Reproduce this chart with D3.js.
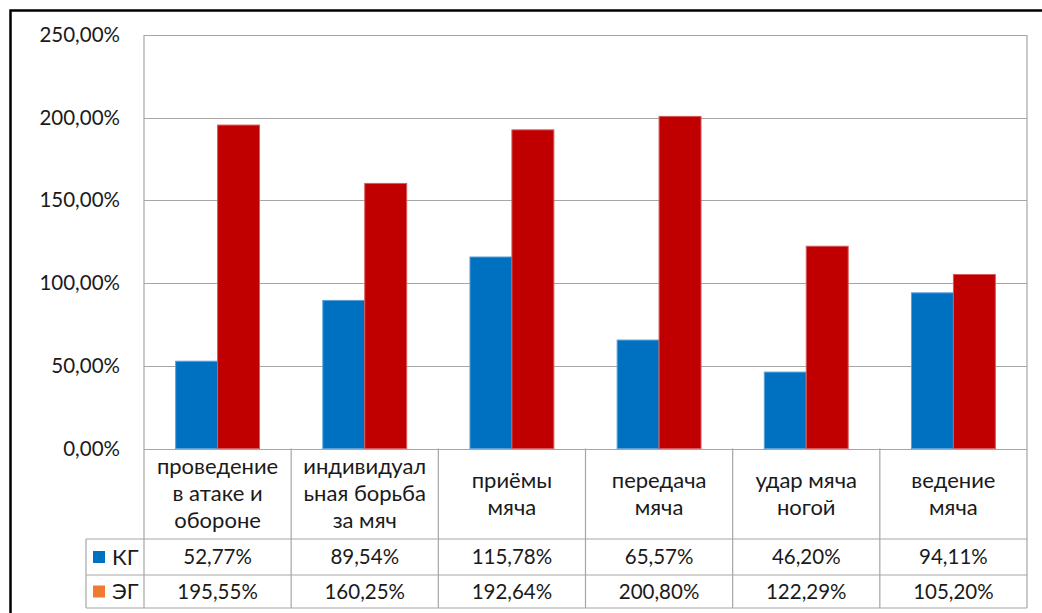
<!DOCTYPE html>
<html>
<head>
<meta charset="utf-8">
<script src="https://cdn.jsdelivr.net/npm/d3@7"></script>
<style>
  html, body { margin: 0; padding: 0; background: #fff; }
  svg { display: block; font-family: Lato, "Open Sans", sans-serif; }
</style>
</head>
<body>
<svg id="chart" width="1042" height="613"></svg>
<script>
// Categories (each label broken into its displayed lines)
const categories = [
  ["проведение", "в атаке и", "обороне"],
  ["индивидуал", "ьная борьба", "за мяч"],
  ["приёмы", "мяча"],
  ["передача", "мяча"],
  ["удар мяча", "ногой"],
  ["ведение", "мяча"]
];
const seriesNames = ["КГ", "ЭГ"];
const valuesKG = [52.77, 89.54, 115.78, 65.57, 46.20, 94.11];
const valuesEG = [195.55, 160.25, 192.64, 200.80, 122.29, 105.20];
const yTicks = [0, 50, 100, 150, 200, 250];

const barColors = ["#0070C0", "#C00000"];
const barStrokes = ["#5c9fd8", "#d85a5a"];
const legendColors = ["#0070C0", "#F07A30"];

const fmt = v => v.toFixed(2).replace(".", ",") + "%";

const svg = d3.select("#chart");
const plot = { left: 144, right: 1027, top: 35, bottom: 448.5 };
const table = { legendLeft: 86, row1: 539, row2: 575, bottom: 608 };
const gridColor = "#a6a6a6";
const textColor = "#1a1a1a";
const numSize = 20.5;
const labelSize = 22;

// outer frame
svg.append("rect")
  .attr("x", 10.5).attr("y", 10.5)
  .attr("width", 1100).attr("height", 700)
  .attr("fill", "none").attr("stroke", "#000").attr("stroke-width", 2.5);

const catIdx = d3.range(categories.length);
const x = d3.scaleBand().domain(catIdx).range([plot.left, plot.right])
  .paddingInner(0.43).paddingOuter(0.215);
const xs = d3.scaleBand().domain([0, 1]).range([0, x.bandwidth()]);
const y = d3.scaleLinear().domain([0, 250]).range([plot.bottom, plot.top]);

// gridlines
svg.append("g").selectAll("line").data(yTicks).join("line")
  .attr("x1", plot.left).attr("x2", plot.right)
  .attr("y1", d => Math.round(y(d)) + 0.5).attr("y2", d => Math.round(y(d)) + 0.5)
  .attr("stroke", gridColor).attr("stroke-width", 1.2);

// y axis labels
const yAxis = d3.axisLeft(y).tickValues(yTicks).tickFormat(fmt).tickSize(0).tickPadding(24);
const yg = svg.append("g").attr("transform", `translate(${plot.left},0)`).call(yAxis);
yg.select(".domain").remove();
yg.selectAll("text").attr("fill", textColor).attr("font-size", numSize)
  .attr("font-family", "Lato, 'Open Sans', sans-serif");

// bars
const series = [valuesKG, valuesEG];
series.forEach((vals, s) => {
  svg.append("g").selectAll("rect").data(vals).join("rect")
    .attr("x", (d, i) => x(i) + xs(s))
    .attr("y", d => y(d))
    .attr("width", xs.bandwidth())
    .attr("height", d => plot.bottom - y(d))
    .attr("fill", barColors[s])
    .attr("stroke", barStrokes[s]).attr("stroke-width", 1);
});

// data table grid
const g = svg.append("g").attr("stroke", gridColor).attr("stroke-width", 1.2).attr("fill", "none");
const colEdges = catIdx.map(i => x(i) - x.step() * x.paddingOuter()).concat([plot.right]);
colEdges.forEach(cx => {
  g.append("line").attr("x1", cx).attr("x2", cx)
    .attr("y1", cx === plot.left || cx === plot.right ? plot.top : plot.bottom)
    .attr("y2", table.bottom);
});
g.append("line").attr("x1", table.legendLeft).attr("x2", table.legendLeft)
  .attr("y1", table.row1).attr("y2", table.bottom);
[table.row1, table.row2, table.bottom].forEach(ry => {
  g.append("line").attr("x1", table.legendLeft).attr("x2", plot.right)
    .attr("y1", ry).attr("y2", ry);
});

// category labels
const lineH = 27;
categories.forEach((lines, i) => {
  const cx = x(i) + x.bandwidth() / 2;
  const midY = (plot.bottom + table.row1) / 2;
  const t = svg.append("text").attr("text-anchor", "middle")
    .attr("fill", textColor).attr("font-size", labelSize);
  lines.forEach((ln, k) => {
    t.append("tspan").attr("x", cx)
      .attr("y", midY + (k - (lines.length - 1) / 2) * lineH)
      .attr("dy", "0.33em").text(ln);
  });
});

// value rows with legend keys
[table.row1, table.row2].forEach((top, s) => {
  const cy = top + (s === 0 ? table.row2 - table.row1 : table.bottom - table.row2) / 2;
  svg.append("rect").attr("x", 93).attr("y", cy - 6).attr("width", 12).attr("height", 12)
    .attr("fill", legendColors[s]);
  svg.append("text").attr("x", 112).attr("y", cy).attr("dy", "0.35em")
    .attr("fill", textColor).attr("font-size", labelSize).text(seriesNames[s]);
  svg.append("g").selectAll("text").data(series[s]).join("text")
    .attr("x", (d, i) => x(i) + x.bandwidth() / 2).attr("y", cy).attr("dy", "0.35em")
    .attr("text-anchor", "middle").attr("fill", textColor).attr("font-size", numSize)
    .text(fmt);
});
</script>
</body>
</html>
